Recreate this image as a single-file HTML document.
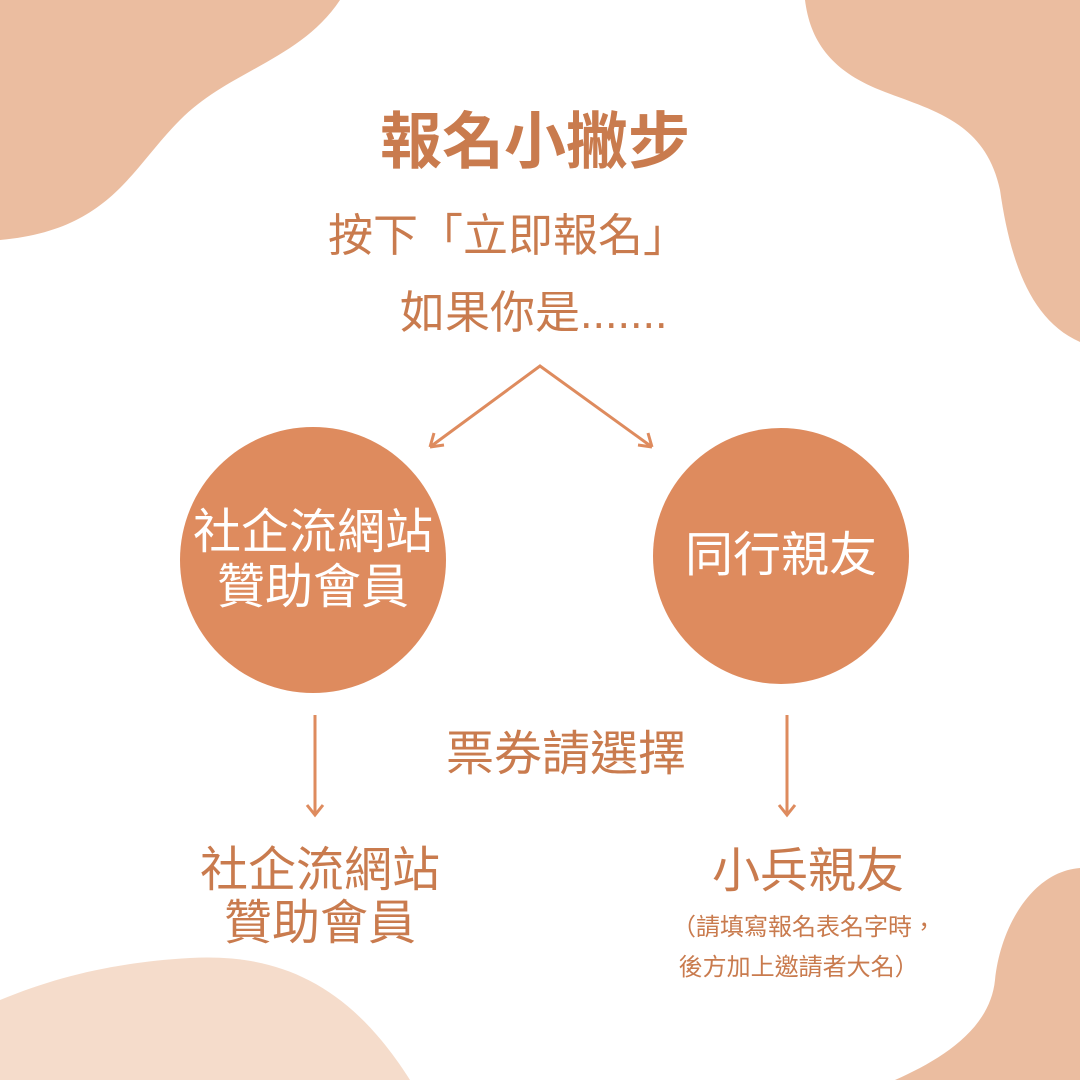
<!DOCTYPE html><html><head><meta charset="utf-8"><style>
body{margin:0}
#c{position:relative;width:1080px;height:1080px;background:#fff;overflow:hidden;font-family:"Liberation Sans","Noto Sans CJK TC",sans-serif;color:#C97B4E}
.t{position:absolute;white-space:nowrap;line-height:1}
.circ{position:absolute;border-radius:50%;background:#DE8B5E;color:#fff;display:flex;align-items:center;justify-content:center;text-align:center;font-size:48px;line-height:1.15}
</style></head><body><div id="c">
<svg width="1080" height="1080" style="position:absolute;left:0;top:0">
<path d="M0,0 L340,0 C300,60 230,70 180,120 C130,170 110,230 0,240 Z" fill="#EBBDA0"/>
<path d="M805,0 L1080,0 L1080,342 C1030,320 1010,260 1000,190 C985,120 930,110 880,90 C830,70 810,40 805,0 Z" fill="#EBBDA0"/>
<path d="M1080,868 C1030,872 1000,930 995,980 C990,1030 940,1060 895,1080 L1080,1080 Z" fill="#EBBDA0"/>
<path d="M0,1000 C60,975 120,962 190,958 C280,953 350,985 410,1080 L0,1080 Z" fill="#F5DCCB"/>
<g stroke="#DE8B5E" stroke-width="3" fill="none">
<path d="M430,447 L540,366 L652,447"/>
<path d="M430,447 l4,-14 M430,447 l14,-2"/>
<path d="M652,447 l-14,-2 M652,447 l-4,-14"/>
<path d="M315,715 V815 M307,805 L315,815 L323,805"/>
<path d="M787,715 V815 M779,805 L787,815 L795,805"/>
</g></svg>
<div class="t" style="left:380px;top:112px;font-size:62px;font-weight:bold">報名小撇步</div>
<div class="t" style="left:328px;top:213px;font-size:45px">按下「立即報名」</div>
<div class="t" style="left:400px;top:290px;font-size:45px">如果你是.......</div>
<div class="circ" style="left:180px;top:427px;width:266px;height:266px">社企流網站<br>贊助會員</div>
<div class="circ" style="left:653px;top:428px;width:256px;height:256px">同行親友</div>
<div class="t" style="left:446px;top:731px;font-size:48px">票券請選擇</div>
<div class="t" style="left:200px;top:845px;font-size:48px;text-align:center;line-height:1.1">社企流網站<br>贊助會員</div>
<div class="t" style="left:712px;top:848px;font-size:48px">小兵親友</div>
<div class="t" style="left:672px;top:908px;font-size:24px;line-height:40px">（請填寫報名表名字時，<br>&nbsp;後方加上邀請者大名）</div>
</div></body></html>
